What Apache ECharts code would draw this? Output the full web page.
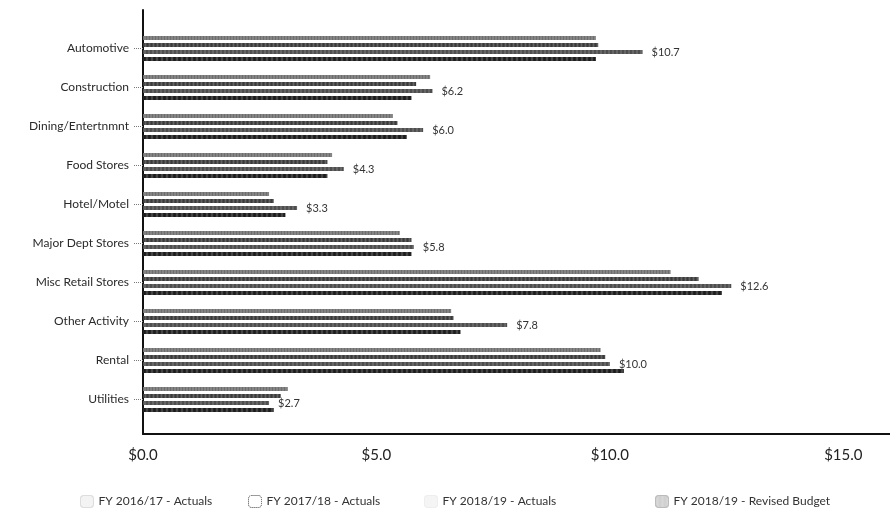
<!DOCTYPE html>
<html>
<head>
<meta charset="utf-8">
<script src="https://cdn.jsdelivr.net/npm/echarts@6/dist/echarts.min.js"></script>
<style>html,body{margin:0;padding:0;background:#fff}#c{width:890px;height:520px}</style>
</head>
<body>
<div id="c"></div>
<script>
const categories = ['Automotive','Construction','Dining/Entertnmnt','Food Stores','Hotel/Motel','Major Dept Stores','Misc Retail Stores','Other Activity','Rental','Utilities'];
const seriesNames = ['FY 2016/17 - Actuals','FY 2017/18 - Actuals','FY 2018/19 - Actuals','FY 2018/19 - Revised Budget'];
const fy1617 = [9.7, 6.15, 5.35, 4.05, 2.7, 5.5, 11.3, 6.6, 9.8, 3.1];
const fy1718 = [9.75, 5.85, 5.45, 3.95, 2.8, 5.75, 11.9, 6.65, 9.9, 2.95];
const fy1819 = [10.7, 6.2, 6.0, 4.3, 3.3, 5.8, 12.6, 7.8, 10.0, 2.7];
const fy1819Budget = [9.7, 5.75, 5.65, 3.95, 3.05, 5.75, 12.4, 6.8, 10.3, 2.8];
const xTicks = [0, 5, 10, 15];

const FONT = 'Lato';
const chart = echarts.init(document.getElementById('c'));
const colors = ['#6e6e6e', '#3a3a3a', '#4e4e4e', '#1c1c1c'];
const decals = [
  {symbol:'rect', symbolSize:0.6, dashArrayX:[2,1], dashArrayY:[1,0], color:'rgba(255,255,255,0.5)'},
  {symbol:'rect', symbolSize:0.6, dashArrayX:[3,1], dashArrayY:[1,0], color:'rgba(255,255,255,0.35)'},
  {symbol:'rect', symbolSize:0.6, dashArrayX:[2,2], dashArrayY:[1,0], color:'rgba(255,255,255,0.45)'},
  {symbol:'rect', symbolSize:0.6, dashArrayX:[4,1], dashArrayY:[1,0], color:'rgba(255,255,255,0.3)'}
];
const dataSets = [fy1617, fy1718, fy1819, fy1819Budget];
const series = dataSets.map((d, i) => ({
  name: seriesNames[i],
  type: 'bar',
  xAxisIndex: 0, yAxisIndex: 0,
  data: d,
  barWidth: 4,
  barGap: '75%',
  itemStyle: {color: colors[i], decal: decals[i]},
  label: i === 2 ? {
    show: true, position: 'right', distance: 9,
    formatter: p => '$' + p.value.toFixed(1),
    fontFamily: FONT, fontSize: 11, color: '#333'
  } : {show: false},
  silent: true
}));
const legendLefts = [75, 243, 419, 650];
const legendIcons = [
  {color:'#f2f2f2', borderColor:'#ddd', borderWidth:1},
  {color:'#fff', borderColor:'#777', borderWidth:1, borderType:'dotted'},
  {color:'#f4f4f4', borderColor:'#eee', borderWidth:1},
  {color:'#cfcfcf', borderColor:'#bbb', borderWidth:1}
];
const legends = seriesNames.map((n, i) => ({
  data: [{name: n, itemStyle: legendIcons[i]}],
  left: legendLefts[i], top: 490,
  itemWidth: 13, itemHeight: 12, itemGap: 6,
  textStyle: {fontFamily: FONT, fontSize: 12, color: '#333'}
}));
chart.setOption({
  animation: false,
  legend: legends,
  grid: [
    {left: 143, right: 0, top: 29, bottom: 101},
    {left: 143, right: 0, top: 10, bottom: 86}
  ],
  xAxis: [
    {gridIndex: 0, type: 'value', min: 0, max: 16, interval: 5, show: false, splitLine: {show: false}},
    {gridIndex: 1, type: 'value', min: 0, max: 16, interval: 5,
     axisLine: {show: true, lineStyle: {color: '#111', width: 2}},
     axisTick: {show: false},
     splitLine: {show: false},
     axisLabel: {showMaxLabel: false, margin: 14, fontFamily: FONT, fontSize: 15, color: '#222',
       formatter: v => xTicks.includes(v) ? '$' + v.toFixed(1) : ''}}
  ],
  yAxis: [
    {gridIndex: 0, type: 'category', data: categories, inverse: true,
     axisLine: {show: false},
     axisTick: {show: true, alignWithLabel: true, length: 9, lineStyle: {color: '#777', type: 'dotted'}},
     axisLabel: {margin: 14, fontFamily: FONT, fontSize: 12, color: '#2a2a2a'},
     splitLine: {show: false}},
    {gridIndex: 1, type: 'value', min: 0, max: 1,
     axisLine: {show: true, lineStyle: {color: '#111', width: 2}},
     axisTick: {show: false}, axisLabel: {show: false}, splitLine: {show: false}}
  ],
  series: series
});
</script>
</body>
</html>
